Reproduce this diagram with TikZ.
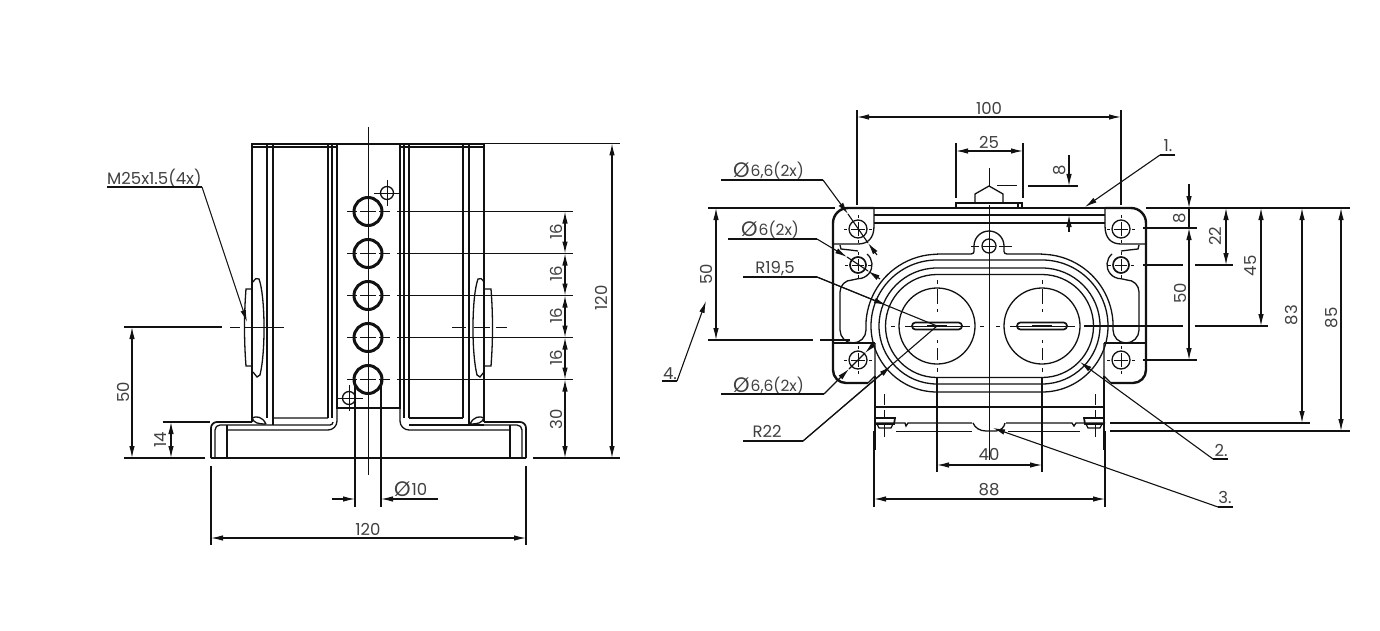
\documentclass[tikz,border=0pt]{standalone}
\usepackage{fontspec}
\setmainfont{Poppins}
\usetikzlibrary{arrows.meta}
\definecolor{inkc}{HTML}{111111}
\definecolor{txtc}{HTML}{404040}
\newcommand{\bigphi}{{\fontsize{21}{21}\selectfont\raisebox{-1pt}{Ø}}\hspace{1pt}}
\tikzset{
  ln/.style={draw=inkc,line width=1.3pt},
  hv/.style={draw=inkc,line width=2.4pt},
  md/.style={draw=inkc,line width=1.7pt},
  dm/.style={draw=inkc,line width=1.1pt},
  dmA/.style={dm,{Latex[length=12pt,width=5.5pt]}-{Latex[length=12pt,width=5.5pt]}},
  ldr/.style={dm,-{Latex[length=12pt,width=5.5pt]}},
  cl/.style={draw=inkc,line width=1pt},
  lab/.style={text=txtc,font=\fontsize{16.5}{17}\selectfont,inner sep=0pt},
  labp/.style={text=txtc,font=\fontsize{15.5}{16}\selectfont,inner sep=0pt},
  labv/.style={lab,rotate=90},
}
\newcommand{\hol}[4]{%
  \draw[#4] (#1,#2) circle[radius=#3];
  \draw[cl] (#1-#3+2,#2)--(#1+#3-2,#2) (#1,#2-#3+2)--(#1,#2+#3-2);
  \draw[cl] (#1-#3-5,#2)--(#1-#3-2,#2) (#1+#3+2,#2)--(#1+#3+5,#2) (#1,#2-#3-5)--(#1,#2-#3-2) (#1,#2+#3+2)--(#1,#2+#3+5);
}
\newcommand{\stad}[1]{\draw[ln] (937,326-#1) arc[start angle=270,end angle=90,radius=#1] -- (1042,326+#1) arc[start angle=90,end angle=-90,radius=#1] -- cycle;}
\newcommand{\halfplate}{%
  \draw[hv] (833,345)--(833,223) arc[start angle=180,end angle=270,radius=15] -- (874,208);
  \draw[ln] (874,208)--(874,226) .. controls (874,238) and (868,244) .. (858,244) -- (834,244);
  \draw[ln] (840,245)--(841,249)--(850,250)--(858,251);
  \draw[ln] (867,254) arc[start angle=-50,end angle=90,radius=14] -- (852,280) arc[start angle=270,end angle=180,radius=12] -- (840,330) arc[start angle=180,end angle=0,radius=13];
  \draw[ln] (866,330) arc[start angle=177,end angle=270,radius=72];
  \draw[ln] (833,343)--(875,343);
  \draw[hv] (833,345)--(833,370) arc[start angle=180,end angle=90,radius=13] -- (868,383);
  \draw[ln] (868,383) -- (875,376) -- (875,343);
  \draw[ln] (875,376)--(875,450);
  \draw[md] (875,418) -- (895,418) -- (894,424) -- (875,424) -- cycle;
  \draw[ln] (877,424) -- (879,428) -- (891,428) -- (893,424);
  \draw[cl] (884,394)--(884,405) (884,410)--(884,417) (884,425)--(884,437);
}
\begin{document}
\begin{tikzpicture}[x=1pt,y=1pt,yscale=-1]
\useasboundingbox (0,0) rectangle (1380,631);
\fill[white] (0,0) rectangle (1380,631);

%%%%%%%%%% LEFT VIEW
\draw[ln] (252,422)--(252,144)--(484,144)--(484,422);
\draw[ln] (252,147)--(337,147) (400,147)--(484,147);
\draw[ln] (267,144)--(267,418) (273,144)--(273,425);
\draw[ln] (328,144)--(328,418) (332,144)--(332,418);
\draw[ln] (404,144)--(404,418) (409,144)--(409,418);
\draw[ln] (463,144)--(463,418) (469,144)--(469,425);
\draw[hv] (337,144)--(337,408)--(400,408)--(400,144)--cycle;
% flange
\draw[md] (211,458)--(526,458);
\draw[md] (211,458)--(211,428) arc[start angle=180,end angle=270,radius=6] -- (252,422);
\draw[md] (526,458)--(526,428) arc[start angle=0,end angle=-90,radius=6] -- (484,422);
\draw[ln] (215,458)--(215,430) arc[start angle=180,end angle=270,radius=5] -- (252,425);
\draw[ln] (522,458)--(522,430) arc[start angle=0,end angle=-90,radius=5] -- (484,425);
\draw[ln] (227,425)--(227,458) (510,425)--(510,458);
\draw[ln] (252,418) .. controls (254,423) and (258,424) .. (266,424) (252,418) .. controls (256,416) and (262,416) .. (266,424);
\draw[ln] (484,418) .. controls (482,423) and (478,424) .. (470,424) (484,418) .. controls (480,416) and (474,416) .. (470,424);
\draw[ln] (252,425)--(330,425) arc[start angle=90,end angle=0,radius=3] (273,418)--(328,418);
\draw[ln] (227,430)--(328,430) arc[start angle=90,end angle=0,radius=9] -- (337,408);
\draw[ln] (400,408)--(400,421) arc[start angle=180,end angle=90,radius=9] -- (510,430);
\draw[ln] (409,418)--(463,418) (409,425)--(484,425);
% ports
\draw[ln] (253,282) .. controls (255,279) and (257,277) .. (259,279) .. controls (265,295) and (266,350) .. (260,375) -- (257,377) -- (253,372);
\draw[ln] (252,289)--(246,289) .. controls (244,315) and (244,340) .. (246,366) -- (252,366);
\draw[ln] (484,282) .. controls (482,279) and (480,277) .. (478,279) .. controls (472,295) and (471,350) .. (477,375) -- (480,377) -- (484,372);
\draw[ln] (484,289)--(491,289) .. controls (493,315) and (493,340) .. (491,366) -- (484,366);
% holes
\foreach \yy in {211.5,253.5,295.5,337.5,379.5}{
  \draw[draw=inkc,line width=3pt] (368,\yy) circle[radius=14];
  \draw[cl] (347,\yy)--(357,\yy) (360,\yy)--(376,\yy) (379,\yy)--(390,\yy);
}
\draw[ln] (387,193) circle[radius=6.5];
\draw[cl] (374,193)--(400,193) (387,180)--(387,206);
\draw[ln] (349,398) circle[radius=6.5];
\draw[cl] (337,398)--(363,398) (349,385)--(349,411);
\draw[cl] (368,127)--(368,475);
\draw[dm] (355,379)--(355,507) (381,379)--(381,507);
% centre line
\draw[cl] (230,327)--(240,327) (245,327)--(284,327) (452,327)--(466,327) (474,327)--(490,327) (496,327)--(507,327);
% dims
\foreach \yy in {211.5,253.5,295.5,337.5,379.5}{\draw[dm] (397,\yy)--(573,\yy);}
\draw[dmA] (565,211.5)--(565,253.5);
\draw[dmA] (565,253.5)--(565,295.5);
\draw[dmA] (565,295.5)--(565,337.5);
\draw[dmA] (565,337.5)--(565,379.5);
\draw[dmA] (565,379.5)--(565,458);
\node[labv] (d16a) at (556,232) {16};
\node[labv] (d16b) at (556,274) {16};
\node[labv] (d16c) at (556,316) {16};
\node[labv] (d16d) at (556,358) {16};
\node[labv] (d30) at (556,419) {30};
\draw[dm] (484,143.5)--(620,143.5) (533,458)--(620,458);
\draw[dmA] (612,143.5)--(612,458);
\node[labv] (d120v) at (601,298) {120};
\draw[dm] (124,327)--(222,327) (124,458)--(205,458);
\draw[dmA] (132,327)--(132,458);
\node[labv] (d50a) at (123,392) {50};
\draw[dm] (163,422)--(210,422);
\draw[dmA] (171,422)--(171,458);
\node[labv] (d14) at (161,440) {14};
\draw[dm] (211,466)--(211,545) (526,466)--(526,545);
\draw[dmA] (211,538)--(526,538);
\node[lab] (d120h) at (368,529) {120};
% phi 10
\draw[dm,-{Latex[length=12pt,width=5.5pt]}] (332,499)--(355,499);
\draw[dm,-{Latex[length=12pt,width=5.5pt]}] (438,499)--(381,499);
\node[lab,anchor=base west] (dphi) at (394,495.5) {\bigphi 10};
% thread leader
\node[lab,anchor=base west] (tm) at (107,184.5) {M25x1.5(4x)};
\coordinate (tm1) at (202,187);
\coordinate (tm2) at (247,322);
\draw[dm] (107,187)--(tm1);
\draw[ldr] (tm1)--(tm2);

%%%%%%%%%% RIGHT VIEW
\halfplate
\begin{scope}[xshift=1979pt,xscale=-1]
\halfplate
\end{scope}
\draw[md] (874,208)--(956,208) (1023,208)--(1105,208);
\draw[ln] (874,215)--(1105,215) (874,223)--(1105,223);
\draw[ln] (956,208)--(956,203)--(1022,203)--(1022,208)--cycle;
\draw[ln] (1018,203)--(1018,208);
\draw[ln] (975,203)--(975,194)--(989,186)--(1003,194)--(1003,203);
\draw[cl] (989,168)--(989,186) (989,205)--(989,460);
\draw[cl] (997,186)--(1017,186);
% hump
\draw[ln] (937,254)--(971,254) .. controls (975,254) and (974,250) .. (974,246) arc[start angle=180,end angle=360,radius=15] .. controls (1004,250) and (1003,254) .. (1007,254) -- (1042,254);
\draw[ln] (989,246) circle[radius=7];
\draw[cl] (971,246)--(979,246) (999,246)--(1012,246) (983,246)--(995,246);
\stad{51.5}\stad{58}\stad{66}
\draw[ln] (875,407)--(1105,407);
\draw[ln] (875,423)--(905,423)--(906,426)--(908,423)--(972,423) (1006,423)--(1072,423)--(1074,426)--(1076,423)--(1105,423);
\draw[ln] (973,423) .. controls (975,428) and (980,431) .. (986,431) -- (996,431) .. controls (1002,430) and (1004,427) .. (1005,423);
\draw[cl] (896,431)--(972,431) (1008,431)--(1080,431);
% holes
\draw[ln] (937,326) circle[radius=38];
\draw[ln] (1042,326) circle[radius=38];
\draw[md,rounded corners=3.4pt] (912,322.5) rectangle (962,329.5);
\draw[md,rounded corners=3.4pt] (1017,322.5) rectangle (1067,329.5);
\draw[md] (927,326)--(947,326) (1032,326)--(1052,326);
\draw[cl] (905,326)--(970,326) (1010,326)--(1075,326) (891,326)--(895,326) (980,326)--(984,326) (996,326)--(1000,326);
\draw[cl] (937,280)--(937,284) (937,289)--(937,304) (937,309)--(937,312) (937,340)--(937,343) (937,348)--(937,360) (937,368)--(937,372);
\draw[cl] (1042,280)--(1042,284) (1042,289)--(1042,304) (1042,309)--(1042,312) (1042,340)--(1042,343) (1042,348)--(1042,360) (1042,368)--(1042,372);
\hol{858}{229}{9}{ln}
\hol{1121}{229}{9}{ln}
\hol{858}{265}{8}{md}
\hol{1121}{265}{8}{md}
\hol{858}{360}{9}{ln}
\hol{1121}{360}{9}{ln}
% dims top
\draw[dm] (857,110)--(857,205) (1121,110)--(1121,205);
\draw[dmA] (857,117)--(1121,117);
\node[lab] (d100) at (989,108) {100};
\draw[dm] (956,143)--(956,198) (1023,143)--(1023,198);
\draw[dmA] (956,151)--(1023,151);
\node[lab] (d25) at (989,142) {25};
\draw[dm] (1028,186)--(1078,186);
\draw[ldr] (1069,155)--(1069,186);
\draw[ldr] (1069,232)--(1069,215);
\node[labv] (d8a) at (1060,170) {8};
% dims right
\draw[dm] (1146,208)--(1350,208) (1143,228)--(1197,228) (1143,265)--(1183,265) (1195,265)--(1233,265) (1143,360)--(1197,360);
\draw[dm] (1084,326)--(1183,326) (1195,326)--(1268,326) (1110,423)--(1310,423) (1110,431)--(1350,431);
\draw[ldr] (1189,184)--(1189,208);
\draw[dm] (1189,208)--(1189,228);
\draw[dmA] (1189,228)--(1189,360);
\node[labv] (d8b) at (1180,218) {8};
\node[labv] (d50b) at (1180,293) {50};
\draw[dmA] (1226,208)--(1226,265);
\node[labv] (d22) at (1215,236) {22};
\draw[dmA] (1261,208)--(1261,326);
\node[labv] (d45) at (1251,266) {45};
\draw[dmA] (1302,208)--(1302,423);
\node[labv] (d83) at (1292,315) {83};
\draw[dmA] (1341,208)--(1341,431);
\node[labv] (d85) at (1332,318) {85};
% dims bottom
\draw[dm] (937,377)--(937,472) (1042,377)--(1042,472);
\draw[dmA] (937,465)--(1042,465);
\node[lab] (d40) at (989,454) {40};
\draw[dm] (874,431)--(874,507) (1105,431)--(1105,507);
\draw[dmA] (874,499)--(1105,499);
\node[lab] (d88) at (989,490) {88};
% dim left
\draw[dm] (708,208)--(835,208) (708,340)--(813,340) (820,340)--(850,340);
\draw[dmA] (716,208)--(716,340);
\node[labv] (d50c) at (706,274) {50};
% leaders
\node[labp,anchor=base west] (p1) at (733,176.5) {\bigphi 6,6(2x)};
\coordinate (p1a) at (823,180); \coordinate (p1b) at (848,214); \coordinate (p1c) at (877,255); \coordinate (p1d) at (868,243);
\draw[dm] (721,180)--(p1a);
\draw[ldr] (p1a)--(p1b);
\draw[ldr] (p1c)--(p1d);
\draw[dm] (p1b)--(p1d);
\node[labp,anchor=base west] (p2) at (741,235.5) {\bigphi 6(2x)};
\coordinate (p2a) at (817,239); \coordinate (p2b) at (847,257); \coordinate (p2c) at (880,279); \coordinate (p2d) at (868,271);
\draw[dm] (728,239)--(p2a);
\draw[ldr] (p2a)--(p2b);
\draw[ldr] (p2c)--(p2d);
\draw[dm] (p2b)--(p2d);
\node[lab,anchor=base] (r19) at (775,273.5) {R19,5};
\coordinate (r1a) at (817,277); \coordinate (r1b) at (886,305); \coordinate (r1c) at (937,326);
\draw[dm] (743,277)--(r1a);
\draw[dm] (r1a)--(r1c);
\draw[ldr] (r1a)--(r1b);
\node[labp,anchor=base west] (p3) at (733,391) {\bigphi 6,6(2x)};
\coordinate (p3a) at (824,394); \coordinate (p3b) at (849,369); \coordinate (p3c) at (875,343); \coordinate (p3d) at (865,353);
\draw[dm] (721,394)--(p3a);
\draw[ldr] (p3a)--(p3b);
\draw[dm] (p3b)--(p3d);
\draw[ldr] (p3c)--(p3d);
\node[lab,anchor=base] (r22) at (767,437.5) {R22};
\coordinate (r2a) at (803,441); \coordinate (r2b) at (891,366); \coordinate (r2c) at (937,326);
\draw[dm] (743,441)--(r2a);
\draw[dm] (r2a)--(r2c);
\draw[ldr] (r2a)--(r2b);
\node[lab,anchor=base] (n1) at (1168,152) {1.};
\coordinate (n1a) at (1160,155); \coordinate (n1b) at (1085,207);
\draw[dm] (1175,155)--(n1a);
\draw[ldr] (n1a)--(n1b);
\node[lab,anchor=base] (n2) at (1221,456) {2.};
\coordinate (n2a) at (1213,459); \coordinate (n2b) at (1080,362);
\draw[dm] (1228,459)--(n2a);
\draw[ldr] (n2a)--(n2b);
\node[lab,anchor=base] (n3) at (1225,503) {3.};
\coordinate (n3a) at (1218,507); \coordinate (n3b) at (993,428);
\draw[dm] (1233,507)--(n3a);
\draw[ldr] (n3a)--(n3b);
\node[lab,anchor=base] (n4) at (670,379) {4.};
\coordinate (n4a) at (677,381); \coordinate (n4b) at (706,301);
\draw[dm] (662,381)--(n4a);
\draw[ldr] (n4a)--(n4b);
\end{tikzpicture}
\end{document}
